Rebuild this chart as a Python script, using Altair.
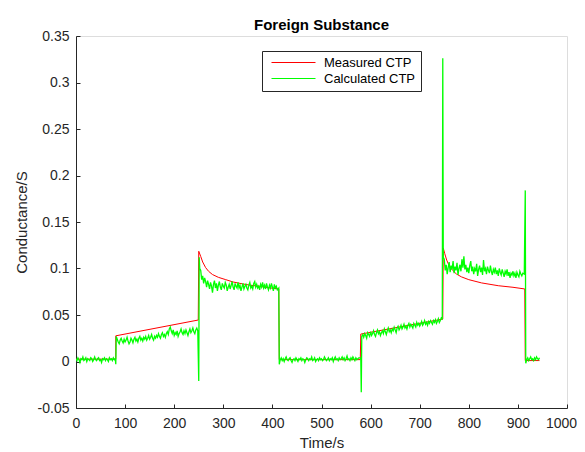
import altair as alt
import pandas as pd

FONT = "Liberation Sans"

x_ticks = [0, 100, 200, 300, 400, 500, 600, 700, 800, 900, 1000]
y_ticks = [-0.05, 0, 0.05, 0.1, 0.15, 0.2, 0.25, 0.3, 0.35]

series_names = ["Measured CTP", "Calculated CTP"]
series_colors = ["#ff0000", "#00ff00"]

# Measured CTP (red)
red_t = [0, 81, 81, 249,
         250, 254, 258, 264, 270, 278, 290, 305, 320, 339, 355, 373, 390, 413,
         414, 579, 580, 747,
         748, 751, 755, 760, 767, 775, 785, 800, 826, 860, 890, 914,
         915, 944]
red_v = [0.0025, 0.0025, 0.0276, 0.0446,
         0.1185, 0.113, 0.107, 0.101, 0.097, 0.0935, 0.0905, 0.088, 0.0855, 0.0835, 0.082, 0.081, 0.0795, 0.078,
         0.002, 0.002, 0.0295, 0.0456,
         0.122, 0.116, 0.109, 0.103, 0.098, 0.094, 0.091, 0.088, 0.0845, 0.0815, 0.0798, 0.078,
         0.001, 0.001]

# Calculated CTP (green): segments sampled every 2 s (start time, step, values) + single samples
g_seg_a = [0.003, 0.001, 0.004, 0.002, -0.001, 0.003, 0.002, 0.005, 0.001, 0.002,
           0.004, 0.000, 0.003, 0.002, 0.001, 0.004, 0.003, 0.000, 0.002, 0.005,
           0.002, 0.001, 0.003, 0.004, 0.001, 0.002, -0.001, 0.003, 0.002, 0.004,
           0.001, 0.003, 0.002, 0.000, 0.004, 0.002, 0.003, 0.001, 0.004, 0.002,
           0.003]
g_seg_b = [0.024, 0.021, 0.019, 0.023, 0.025, 0.022, 0.020, 0.024, 0.021,
           0.023, 0.026, 0.022, 0.019, 0.021, 0.025, 0.023, 0.020, 0.024, 0.026,
           0.022, 0.024, 0.021, 0.025, 0.027, 0.023, 0.025, 0.022, 0.026, 0.024,
           0.027, 0.023, 0.025, 0.028, 0.024, 0.026, 0.029, 0.025, 0.023, 0.027,
           0.025, 0.028, 0.026, 0.030, 0.027, 0.025, 0.029, 0.031, 0.027, 0.029,
           0.026, 0.030, 0.032, 0.029, 0.035, 0.037, 0.033, 0.030, 0.034, 0.028,
           0.031, 0.029, 0.033, 0.027, 0.030, 0.032, 0.035, 0.031, 0.029, 0.033,
           0.030, 0.034, 0.031, 0.028, 0.032, 0.035, 0.031, 0.033, 0.036, 0.032,
           0.030, 0.034, 0.036, 0.033]
g_seg_c = [0.098, 0.088, 0.092, 0.084, 0.090, 0.086, 0.080, 0.087, 0.083,
           0.078, 0.085, 0.081, 0.074, 0.083, 0.087, 0.079, 0.084, 0.076, 0.082,
           0.086, 0.080, 0.077, 0.084, 0.081, 0.079, 0.085, 0.082, 0.076, 0.080,
           0.083, 0.078, 0.082, 0.086, 0.080, 0.077, 0.084, 0.081, 0.079, 0.085,
           0.079, 0.082, 0.076, 0.080, 0.084, 0.078, 0.081, 0.083, 0.079, 0.077,
           0.082, 0.085, 0.079, 0.081, 0.078, 0.084, 0.086, 0.080, 0.083, 0.079,
           0.081, 0.077, 0.083, 0.080, 0.085, 0.079, 0.082, 0.078, 0.084, 0.080,
           0.077, 0.082, 0.079, 0.084, 0.080, 0.076, 0.083, 0.079, 0.081, 0.077]
g_seg_d = [0.002, 0.004, 0.001, 0.003, 0.000, 0.003, 0.005, 0.002, 0.001, 0.003,
           0.004, 0.001, -0.001, 0.002, 0.003, 0.001, 0.004, 0.002, 0.000, 0.003,
           0.002, 0.004, 0.001, 0.003, 0.002, -0.001, 0.002, 0.004, 0.003, 0.001,
           0.003, 0.002, 0.005, 0.001, 0.002, 0.004, 0.000, 0.002, 0.003, 0.001,
           0.004, 0.002, 0.003, 0.001, 0.002, 0.005, 0.003, 0.001, 0.002, 0.004,
           0.001, 0.003, 0.002, 0.004, 0.000, 0.003, 0.005, 0.002, 0.003, 0.001,
           0.004, 0.002, 0.003, 0.005, 0.002, 0.004, 0.001, 0.003, 0.006, 0.002,
           0.003, 0.001, 0.004, 0.002, 0.005, 0.003, 0.001, 0.004, 0.002, 0.003,
           0.004]
g_seg_e = [0.029, 0.026, 0.030, 0.028, 0.025, 0.031, 0.029, 0.027, 0.032, 0.028,
           0.030, 0.033, 0.029, 0.027, 0.031, 0.034, 0.030, 0.032, 0.028, 0.031,
           0.033, 0.030, 0.035, 0.032, 0.029, 0.033, 0.036, 0.032, 0.034, 0.031,
           0.035, 0.033, 0.037, 0.034, 0.031, 0.036, 0.038, 0.034, 0.036, 0.039,
           0.035, 0.037, 0.040, 0.036, 0.038, 0.035, 0.039, 0.041, 0.037, 0.040,
           0.038, 0.036, 0.041, 0.039, 0.037, 0.042, 0.039, 0.041, 0.038, 0.040,
           0.043, 0.039, 0.041, 0.044, 0.040, 0.042, 0.039, 0.043, 0.041, 0.044,
           0.042, 0.040, 0.044, 0.042, 0.045, 0.041, 0.043, 0.046, 0.042, 0.044,
           0.047]
g_seg_f = [0.110, 0.098, 0.104, 0.094, 0.101, 0.107, 0.096, 0.103, 0.099, 0.108,
           0.095, 0.102, 0.098, 0.106, 0.093, 0.100, 0.104, 0.097, 0.110, 0.101,
           0.113, 0.099, 0.104, 0.096, 0.101, 0.095, 0.103, 0.108, 0.097, 0.102,
           0.094, 0.100, 0.097, 0.105, 0.092, 0.099, 0.103, 0.096, 0.101, 0.093,
           0.109, 0.097, 0.100, 0.094, 0.102, 0.098, 0.095, 0.103, 0.097, 0.093,
           0.099, 0.096, 0.101, 0.094, 0.098, 0.092, 0.100, 0.096, 0.093, 0.099,
           0.095, 0.091, 0.097, 0.094, 0.099, 0.092, 0.096, 0.090, 0.095, 0.093,
           0.097, 0.092, 0.095, 0.090, 0.096, 0.093, 0.091, 0.097, 0.094, 0.092,
           0.095]
g_seg_g = [0.002, 0.004, 0.001, 0.003, 0.005, 0.002, 0.003, 0.001, 0.004, 0.002,
           0.005, 0.003, 0.002, 0.004]

g_segments = [(0, 2, g_seg_a), (84, 2, g_seg_b), (254, 2, g_seg_c), (416, 2, g_seg_d),
              (584, 2, g_seg_e), (750, 2, g_seg_f), (918, 2, g_seg_g)]
g_single_t = [81, 82, 250, 251, 252, 413, 414, 580, 581, 582, 746, 747, 748, 913, 915, 916]
g_single_v = [-0.003, 0.027, -0.021, 0.112, 0.100, 0.079, -0.003, 0.004, -0.033, 0.027,
              0.046, 0.326, 0.112, 0.094, 0.184, -0.002]

green_pts = []
for start, step, vals in g_segments:
    for i, v in enumerate(vals):
        green_pts.append((start + i * step, v))
green_pts += list(zip(g_single_t, g_single_v))
green_pts.sort(key=lambda p: p[0])

red_df = pd.DataFrame({"t": red_t, "v": red_v, "series": series_names[0],
                       "i": list(range(len(red_t)))})
green_df = pd.DataFrame({"t": [p[0] for p in green_pts], "v": [p[1] for p in green_pts],
                         "series": series_names[1], "i": list(range(len(green_pts)))})

xscale = alt.Scale(domain=[0, 1000], nice=False, zero=False)
yscale = alt.Scale(domain=[-0.05, 0.35], nice=False, zero=False)
cscale = alt.Scale(domain=series_names, range=series_colors)

ylabel = "datum.value < 0 ? '-' + format(-datum.value, '~g') : format(datum.value, '~g')"

axis_col = "#262626"

x_main = alt.Axis(title="Time/s", values=x_ticks, format="d", ticks=False, grid=False,
                  labelFlush=False,
                  labelOffset={"condition": {"test": "datum.value >= 1000", "value": -6}, "value": 0},
                  domainColor=axis_col, domainWidth=1, labelPadding=8,
                  labelFont=FONT, labelFontSize=14, labelColor=axis_col,
                  titleFont=FONT, titleFontSize=15, titleFontWeight="normal", titleColor=axis_col,
                  titleY=34, titleBaseline="middle", orient="bottom")
y_main = alt.Axis(title="Conductance/S", values=y_ticks, labelExpr=ylabel, ticks=False, grid=False,
                  domainColor=axis_col, domainWidth=1, labelPadding=7,
                  labelFont=FONT, labelFontSize=14, labelColor=axis_col,
                  titleFont=FONT, titleFontSize=15, titleFontWeight="normal", titleColor=axis_col,
                  titleX=-54.5, titleY=186, titleBaseline="middle", titleAlign="center", orient="left")
x_ticks_axis = alt.Axis(orient="bottom", offset=-4, values=x_ticks, ticks=True, tickSize=4,
                        tickColor=axis_col, tickWidth=1, labels=False, domain=False, grid=False,
                        title=None)
y_ticks_axis = alt.Axis(orient="left", offset=-4, values=y_ticks, ticks=True, tickSize=4,
                        tickColor=axis_col, tickWidth=1, labels=False, domain=False, grid=False,
                        title=None)

legend = alt.Legend(title=None, orient="none", legendX=186, legendY=15,
                    strokeColor=axis_col, fillColor="white", padding=5,
                    symbolType="stroke", symbolSize=1936, symbolStrokeWidth=1,
                    clipHeight=13, rowPadding=2, symbolOffset=4, labelOffset=8,
                    labelFont=FONT, labelFontSize=13, labelColor="black")

red = alt.Chart(red_df).mark_line(strokeWidth=1, clip=True).encode(
    x=alt.X("t:Q", scale=xscale, axis=x_main),
    y=alt.Y("v:Q", scale=yscale, axis=y_main),
    color=alt.Color("series:N", scale=cscale, legend=legend, sort=series_names),
    order=alt.Order("i:Q"),
)
green = alt.Chart(green_df).mark_line(strokeWidth=1.3, clip=True).encode(
    x=alt.X("t:Q", scale=xscale, axis=x_ticks_axis),
    y=alt.Y("v:Q", scale=yscale, axis=y_ticks_axis),
    color=alt.Color("series:N", scale=cscale, legend=legend, sort=series_names),
    order=alt.Order("i:Q"),
)

chart = alt.layer(red, green).resolve_axis(x="independent", y="independent").properties(
    width=491, height=372,
    autosize=alt.AutoSizeParams(type="none"),
    padding={"left": 68, "top": 28, "right": 10, "bottom": 44},
    title=alt.TitleParams("Foreign Substance", font=FONT, fontSize=15, fontWeight="bold",
                          color="black", offset=0, dy=4, anchor="middle"),
).configure_view(stroke=None).configure(background="white")

chart.save("out.html", embed_options={"renderer": "svg", "actions": False})
